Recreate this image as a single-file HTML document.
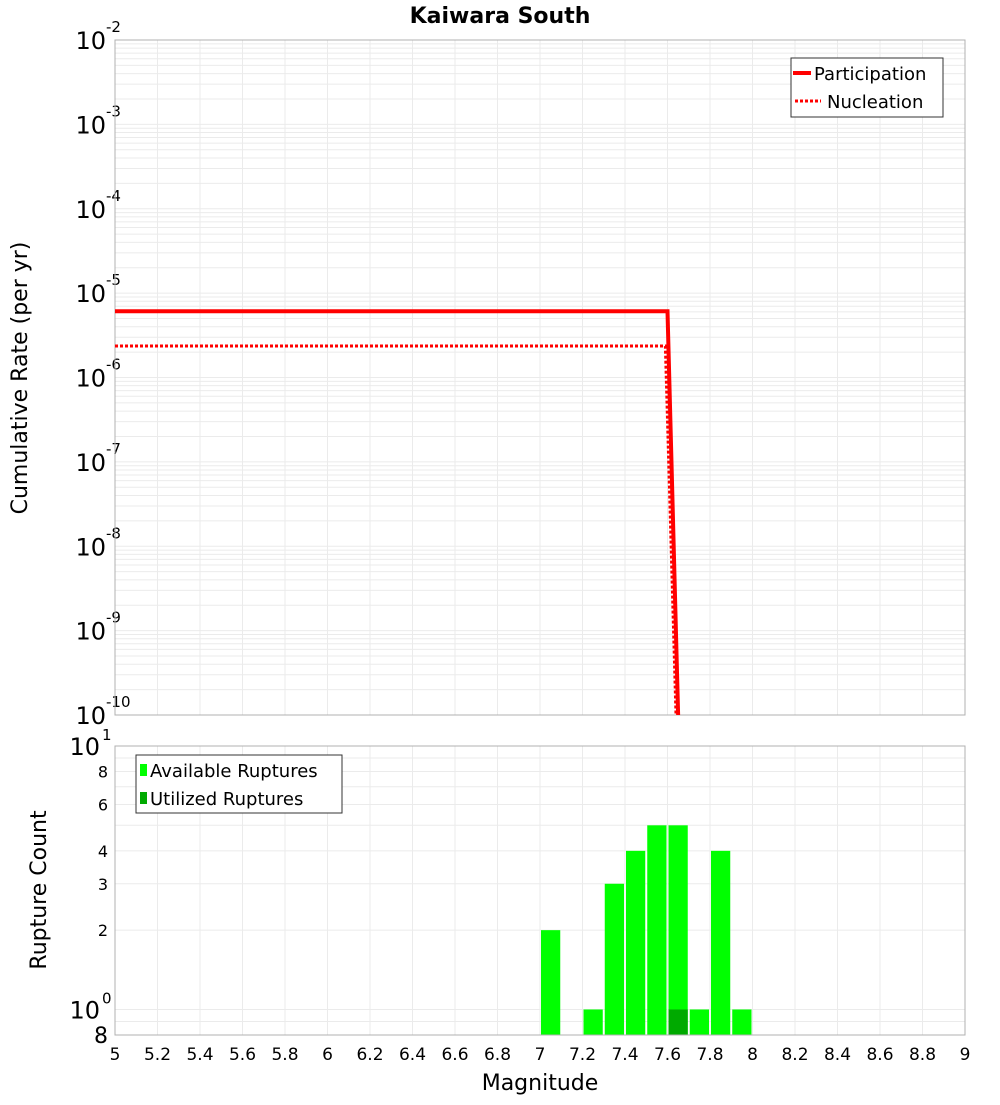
<!DOCTYPE html>
<html><head><meta charset="utf-8"><style>
body{margin:0;background:#fff;font-family:"Liberation Sans","DejaVu Sans",sans-serif}
svg text{font-family:"DejaVu Sans","Liberation Sans",sans-serif}
</style></head><body>
<svg id="c" width="1000" height="1100" xmlns="http://www.w3.org/2000/svg">
<text x="500" y="23" text-anchor="middle" font-size="22" font-weight="bold">Kaiwara South</text>
<g id="top"></g>
<g id="bot"></g>
<text x="27" y="378" transform="rotate(-90 27 378)" text-anchor="middle" font-size="22">Cumulative Rate (per yr)</text>
<text x="46" y="890" transform="rotate(-90 46 890)" text-anchor="middle" font-size="22">Rupture Count</text>
<text x="540" y="1090" text-anchor="middle" font-size="22">Magnitude</text>
</svg>
<script>
const partM=[5,7.6,7.65];
const partR=[6.1e-6,6.1e-6,1e-10];
const nuclM=[5,7.59,7.64];
const nuclR=[2.36e-6,2.36e-6,1e-10];
const binStart=[7.0,7.2,7.3,7.4,7.5,7.6,7.7,7.8,7.9];
const available=[2,1,3,4,5,5,1,4,1];
const utilized=[0,0,0,0,0,1,0,0,0];
const xTicks=[5,5.2,5.4,5.6,5.8,6,6.2,6.4,6.6,6.8,7,7.2,7.4,7.6,7.8,8,8.2,8.4,8.6,8.8,9];
const NS="http://www.w3.org/2000/svg";
const L=115,R=965;
const x=m=>L+(m-5)/4*(R-L);
const T0=40,T1=715;
const yt=v=>T1-(Math.log10(v)+10)/8*(T1-T0);
const B0=746,B1=1035;
const yb=v=>B1-(Math.log10(v)-Math.log10(0.8))/(1-Math.log10(0.8))*(B1-B0);
function mk(p,tag,a,txt){const e=document.createElementNS(NS,tag);for(const k in a)e.setAttribute(k,a[k]);if(txt!==undefined)e.textContent=txt;p.appendChild(e);return e;}
const topG=document.getElementById('top'),botG=document.getElementById('bot');
for(let d=-10;d<-2;d++)for(let k=1;k<10;k++){const y=yt(k*Math.pow(10,d));const g=mk(topG,'line',{x1:L,x2:R,y1:y,y2:y,stroke:'#ebebeb','stroke-width':1});

}
xTicks.forEach(m=>{const g=mk(topG,'line',{x1:x(m),x2:x(m),y1:T0,y2:T1,stroke:'#ebebeb'});


const g2=mk(botG,'line',{x1:x(m),x2:x(m),y1:B0,y2:B1,stroke:'#ebebeb'});


const t=mk(botG,'text',{x:x(m),y:1060,'text-anchor':'middle','font-size':17},String(m));

});
for(let d=-10;d<=-2;d++){const t=mk(topG,'text',{x:106,y:yt(Math.pow(10,d))+9,'text-anchor':'end','font-size':24},'10');


const s=mk(topG,'text',{x:106,y:yt(Math.pow(10,d))-8,'font-size':15},String(d));

}
const fr=mk(topG,'rect',{x:L,y:T0,width:R-L,height:T1-T0,fill:'none',stroke:'#b0b0b0'});


const pl=mk(topG,'polyline',{points:partM.map((m,i)=>x(m)+','+yt(partR[i])).join(' '),fill:'none',stroke:'#f00','stroke-width':4});


const nl=mk(topG,'polyline',{points:nuclM.map((m,i)=>x(m)+','+yt(nuclR[i])).join(' '),fill:'none',stroke:'#f00','stroke-width':3,'stroke-dasharray':'3,2'});


const lg=mk(topG,'g',{});


mk(lg,'rect',{x:791,y:58,width:152,height:59,fill:'#fff',stroke:'#333'});
mk(lg,'line',{x1:793,x2:811,y1:73,y2:73,stroke:'#f00','stroke-width':4});
mk(lg,'text',{x:814,y:80,'font-size':18},'Participation');
mk(lg,'line',{x1:795,x2:821,y1:101,y2:101,stroke:'#f00','stroke-width':3,'stroke-dasharray':'3,2'});
mk(lg,'text',{x:827,y:108,'font-size':18},'Nucleation');
[0.9,1,2,3,4,5,6,7,8,9].forEach(v=>{const g=mk(botG,'line',{x1:L,x2:R,y1:yb(v),y2:yb(v),stroke:'#ebebeb'});

});
[[2,'2'],[3,'3'],[4,'4'],[6,'6'],[8,'8']].forEach(([v,s])=>{const t=mk(botG,'text',{x:108,y:yb(v)+6,'text-anchor':'end','font-size':16},s);

});
[[1,'0'],[10,'1']].forEach(([v,e])=>{const t=mk(botG,'text',{x:100,y:yb(v)+9,'text-anchor':'end','font-size':24},'10');


const s=mk(botG,'text',{x:102,y:yb(v)-6,'font-size':15},e);

});
const t8=mk(botG,'text',{x:108,y:1043,'text-anchor':'end','font-size':22},'8');


binStart.forEach((m,i)=>{const r=mk(botG,'rect',{x:x(m)+1,y:yb(available[i]),width:x(m+0.1)-x(m)-2,height:B1-yb(available[i]),fill:'#00ff00'});


if(utilized[i]>0){const u=mk(botG,'rect',{x:x(m)+1,y:yb(utilized[i]),width:x(m+0.1)-x(m)-2,height:B1-yb(utilized[i]),fill:'#00aa00'});

}});
const fb=mk(botG,'rect',{x:L,y:B0,width:R-L,height:B1-B0,fill:'none',stroke:'#b0b0b0'});


const lb=mk(botG,'g',{});


mk(lb,'rect',{x:136,y:755,width:206,height:58,fill:'#fff',stroke:'#333'});
mk(lb,'rect',{x:140,y:764,width:7,height:12,fill:'#00ff00'});
mk(lb,'text',{x:150,y:777,'font-size':18},'Available Ruptures');
mk(lb,'rect',{x:140,y:792,width:7,height:12,fill:'#00aa00'});
mk(lb,'text',{x:150,y:805,'font-size':18},'Utilized Ruptures');
</script>
</body></html>
